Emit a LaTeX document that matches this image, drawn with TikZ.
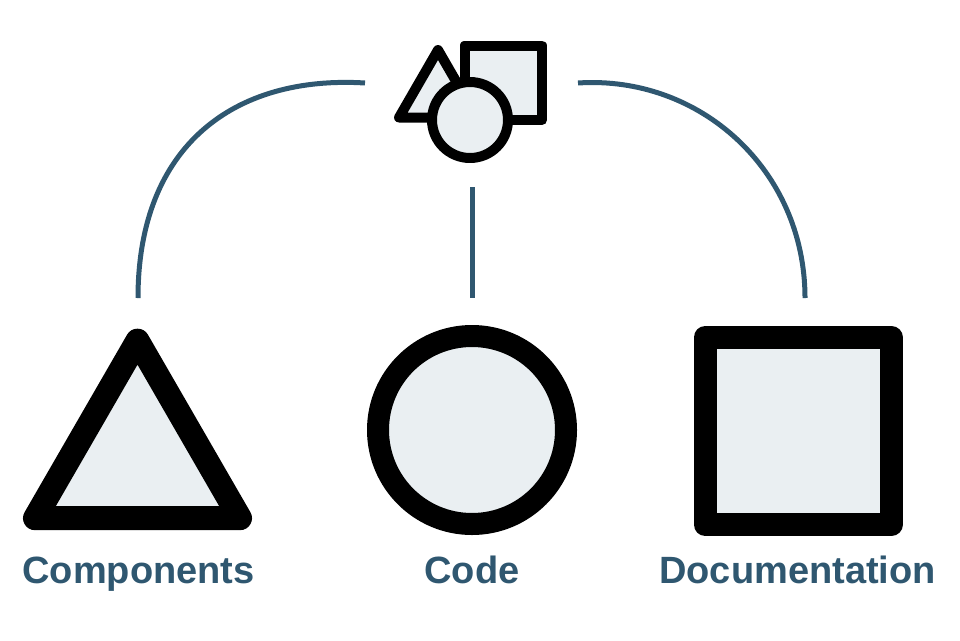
\documentclass[tikz,border=0pt]{standalone}
\usepackage{fontspec}
\setmainfont{Liberation Sans}
\usepackage{xcolor}
\definecolor{slate-800}{RGB}{47,87,112}
\definecolor{slate-50}{RGB}{234,239,242}
\usepackage{tikz}
\usetikzlibrary{shapes.geometric}

\begin{document}
\begin{tikzpicture}[
    x=1pt, y=-1pt,
    shape box/.style={draw=black, fill=slate-50, line join=round, inner sep=0pt, outer sep=0pt, line width=#1},
    tri shape/.style={shape box=#1, regular polygon, regular polygon sides=3},
    label text/.style={font=\fontsize{38}{44}\selectfont\bfseries, text=slate-800, anchor=base},
    link/.style={line width=5pt, slate-800}
]
\useasboundingbox (0,0) rectangle (960,640);

% Hub icon (triangle, square, circle)
\node[tri shape=10pt, minimum size=90pt] (hub-tri) at (438,95) {};
\node[shape box=10pt, rectangle, minimum width=77.5pt, minimum height=74.5pt] (hub-sq) at (503.25,82.75) {};
\node[shape box=10pt, circle, minimum size=76pt] (hub-circ) at (470,120) {};

% Components
\node[tri shape=24pt, minimum size=236.7pt] (comp) at (137.5,459) {};
\node[label text] (comp-label) at (138.5,583) {Components};

% Code
\node[shape box=22pt, circle, minimum size=188pt] (code) at (472,430) {};
\node[label text] (code-label) at (472,583) {Code};

% Documentation
\node[shape box=23pt, rectangle, minimum width=186.5pt, minimum height=187pt] (docs) at (798.25,431) {};
\node[label text] (docs-label) at (797.5,583) {Documentation};

% Connector ends
\coordinate (hub-left) at (365,83);
\coordinate (hub-right) at (578,83);
\coordinate (hub-bottom) at (472,187);
\coordinate (comp-top) at (138,298);
\coordinate (code-top) at (472,298);
\coordinate (docs-top) at (805,298);

% Connectors
\draw[link] (comp-top) .. controls +(0,-153) and +(-130,-8) .. (hub-left);
\draw[link] (hub-bottom) -- (code-top);
\draw[link] (hub-right) .. controls +(122,-8) and +(0,-128) .. (docs-top);

\end{tikzpicture}
\end{document}
